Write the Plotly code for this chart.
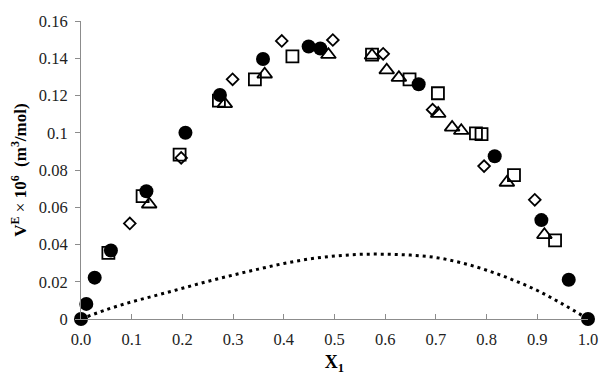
import plotly.graph_objects as go

# Filled circles
circ_x = [0.0, 0.0105, 0.027, 0.059, 0.129, 0.206, 0.274, 0.359, 0.449, 0.472, 0.666, 0.816, 0.908, 0.962, 1.0]
circ_y = [0.0, 0.0081, 0.0222, 0.0368, 0.0686, 0.100, 0.1203, 0.1396, 0.1463, 0.1452, 0.126, 0.0874, 0.0531, 0.0211, 0.0]

# Open squares
sq_x = [0.054, 0.1215, 0.1945, 0.272, 0.343, 0.417, 0.574, 0.648, 0.704, 0.779, 0.790, 0.854, 0.935]
sq_y = [0.0355, 0.066, 0.0883, 0.1173, 0.1287, 0.141, 0.1419, 0.1287, 0.1212, 0.0997, 0.0993, 0.0772, 0.0422]

# Open triangles
tri_x = [0.1345, 0.2836, 0.3623, 0.488, 0.574, 0.603, 0.627, 0.7046, 0.732, 0.750, 0.840, 0.914]
tri_y = [0.0616, 0.1155, 0.1314, 0.1419, 0.1415, 0.1336, 0.1296, 0.1103, 0.1029, 0.1011, 0.0733, 0.0452]

# Open diamonds
dia_x = [0.0963, 0.1976, 0.299, 0.396, 0.4967, 0.596, 0.6935, 0.795, 0.895]
dia_y = [0.0513, 0.0865, 0.1287, 0.1493, 0.1498, 0.1424, 0.1124, 0.0821, 0.064]

# Dotted curve
dot_x = [0.0, 0.05, 0.1, 0.15, 0.2, 0.25, 0.3, 0.35, 0.4, 0.45, 0.5, 0.55, 0.6, 0.65, 0.7, 0.75, 0.8, 0.85, 0.9, 0.95, 1.0]
dot_y = [0.0, 0.005, 0.0092, 0.0128, 0.0165, 0.0202, 0.0236, 0.0268, 0.0298, 0.0322, 0.0338, 0.0347, 0.0348, 0.0343, 0.0330, 0.0302, 0.0262, 0.0212, 0.0153, 0.0080, 0.0]

y_ticks = [0, 0.02, 0.04, 0.06, 0.08, 0.1, 0.12, 0.14, 0.16]
y_ticktext = ["0", "0.02", "0.04", "0.06", "0.08", "0.1", "0.12", "0.14", "0.16"]
x_ticks = [0.0, 0.1, 0.2, 0.3, 0.4, 0.5, 0.6, 0.7, 0.8, 0.9, 1.0]
x_ticktext = ["0.0", "0.1", "0.2", "0.3", "0.4", "0.5", "0.6", "0.7", "0.8", "0.9", "1.0"]

fig = go.Figure()
fig.add_trace(go.Scatter(x=dot_x, y=dot_y, mode="lines",
                         line=dict(color="black", width=3, dash="3px,4px", shape="spline"),
                         showlegend=False, cliponaxis=False))
fig.add_trace(go.Scatter(x=sq_x, y=sq_y, mode="markers",
                         marker=dict(symbol="square-open", size=12, color="black", line=dict(width=1.8, color="black")),
                         showlegend=False, cliponaxis=False))
fig.add_trace(go.Scatter(x=tri_x, y=tri_y, mode="markers",
                         marker=dict(symbol="triangle-up-open", size=13, color="black", line=dict(width=1.8, color="black")),
                         showlegend=False, cliponaxis=False))
fig.add_trace(go.Scatter(x=dia_x, y=dia_y, mode="markers",
                         marker=dict(symbol="diamond-open", size=9, color="black", line=dict(width=1.8, color="black")),
                         showlegend=False, cliponaxis=False))
fig.add_trace(go.Scatter(x=circ_x, y=circ_y, mode="markers",
                         marker=dict(symbol="circle", size=14, color="black", line=dict(width=0)),
                         showlegend=False, cliponaxis=False))

tickfont = dict(family="Liberation Serif", size=16.5, color="#222222")
fig.update_layout(
    width=609, height=379,
    margin=dict(l=81, r=11, t=21, b=55),
    paper_bgcolor="white", plot_bgcolor="white",
    xaxis=dict(range=[0, 1.0], tickvals=x_ticks, ticktext=x_ticktext,
               showgrid=False, zeroline=False, showline=True, linecolor="#8c8c8c", linewidth=1,
               ticks="inside", ticklen=5, tickcolor="#8c8c8c", tickfont=tickfont,
               ticklabelstandoff=5,
               title=dict(text="<b>X</b><sub><b>1</b></sub>",
                          font=dict(family="Liberation Serif", size=18, color="black"), standoff=7)),
    yaxis=dict(range=[0, 0.16], tickvals=y_ticks, ticktext=y_ticktext,
               showgrid=False, zeroline=False, showline=True, linecolor="#8c8c8c", linewidth=1,
               ticks="outside", ticklen=5, tickcolor="#8c8c8c", tickfont=tickfont,
               ticklabelstandoff=4,
               title=dict(text="<b>V<sup>E</sup></b> × <b>10<sup>6</sup>  (m<sup>3</sup>/mol)</b>",
                          font=dict(family="Liberation Serif", size=17, color="black"), standoff=7)),
)

fig.write_html("out.html")
